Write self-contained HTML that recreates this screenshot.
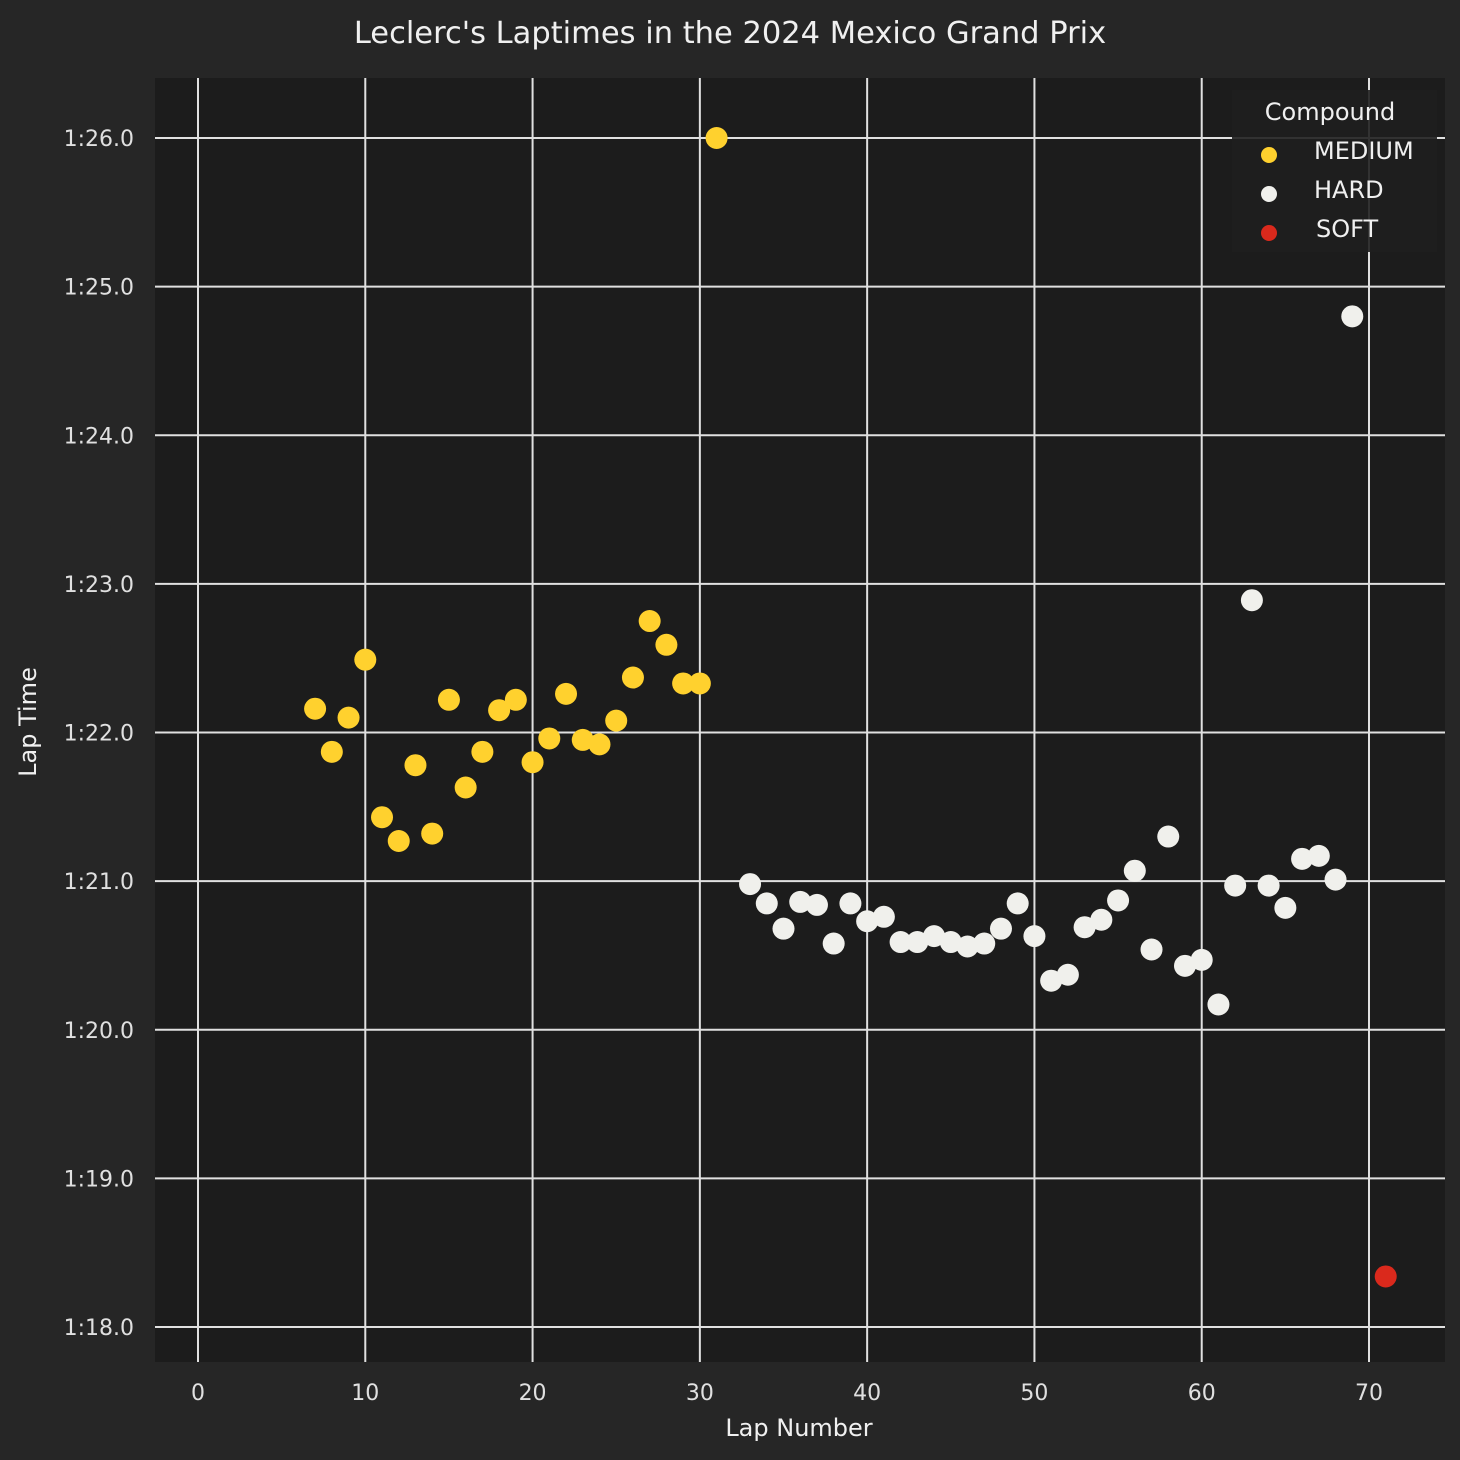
<!DOCTYPE html>
<html><head><meta charset="utf-8"><style>
html,body{margin:0;padding:0;background:#262626;}
svg{display:block;font-family:"DejaVu Sans","Liberation Sans",sans-serif;}
</style></head><body>
<svg id="chart" width="1460" height="1460" viewBox="0 0 1460 1460">
<rect x="0" y="0" width="1460" height="1460" fill="#262626"/>
<rect x="155" y="78" width="1290" height="1284" fill="#1c1c1c"/>
<g id="grid"></g><g id="ticks"></g><g id="points"></g>
<text x="730" y="43" fill="#f0f0f0" font-size="30.5" text-anchor="middle">Leclerc's Laptimes in the 2024 Mexico Grand Prix</text>
<text x="799" y="1436" fill="#f0f0f0" font-size="24" text-anchor="middle">Lap Number</text>
<text x="0" y="0" transform="translate(36,722) rotate(-90)" fill="#f0f0f0" font-size="24" text-anchor="middle">Lap Time</text>
<g>
<rect x="1232" y="90" width="205" height="162" fill="#1f1f1f" opacity="0.9"/>
<text x="1330" y="120" fill="#f0f0f0" font-size="24" text-anchor="middle">Compound</text>
<g><circle cx="1269" cy="155" r="8" fill="#ffd12e"/><text x="1314" y="159" fill="#f0f0f0" font-size="24">MEDIUM</text></g>
<g><circle cx="1269" cy="194" r="8" fill="#f0f0ec"/><text x="1314" y="198" fill="#f0f0f0" font-size="24">HARD</text></g>
<g><circle cx="1269" cy="233" r="8" fill="#da291c"/><text x="1316" y="237" fill="#f0f0f0" font-size="24">SOFT</text></g>
</g>
</svg>
<script>
const mediumLaps=[7,8,9,10,11,12,13,14,15,16,17,18,19,20,21,22,23,24,25,26,27,28,29,30,31];
const mediumTimes=[82.16,81.87,82.10,82.49,81.43,81.27,81.78,81.32,82.22,81.63,81.87,82.15,82.22,81.80,81.96,82.26,81.95,81.92,82.08,82.37,82.75,82.59,82.33,82.33,86.0];
const hardLaps=[33,34,35,36,37,38,39,40,41,42,43,44,45,46,47,48,49,50,51,52,53,54,55,56,57,58,59,60,61,62,63,64,65,66,67,68,69];
const hardTimes=[80.98,80.85,80.68,80.86,80.84,80.58,80.85,80.73,80.76,80.59,80.59,80.63,80.59,80.56,80.58,80.68,80.85,80.63,80.33,80.37,80.69,80.74,80.87,81.07,80.54,81.30,80.43,80.47,80.17,80.97,82.89,80.97,80.82,81.15,81.17,81.01,84.80];
const softLaps=[71];
const softTimes=[78.34];
const xTicks=[0,10,20,30,40,50,60,70];
const yTicks=[78,79,80,81,82,83,84,85,86];
const NS="http://www.w3.org/2000/svg";
const xs=v=>198+(v-0)*(1369-198)/70;
const ys=v=>1327-(v-78)*(1327-138)/8;
const fmt=v=>{const m=Math.floor(v/60),s=v-m*60;return m+":"+(s<10?"0":"")+s.toFixed(1);};
function mk(tag,attrs,parent){const e=document.createElementNS(NS,tag);for(const k in attrs)e.setAttribute(k,attrs[k]);parent.appendChild(e);return e;}
const grid=document.getElementById('grid'),ticks=document.getElementById('ticks'),pts=document.getElementById('points');
xTicks.forEach(t=>{
 const l=mk('line',{x1:xs(t),x2:xs(t),y1:78,y2:1362,stroke:'#e0e0e0','stroke-width':2},grid);
 
 
 const tx=mk('text',{x:xs(t),y:1400,fill:'#e0e0e0','font-size':22,'text-anchor':'middle'},ticks);
 tx.textContent=t;
 
 
});
yTicks.forEach(t=>{
 const l=mk('line',{x1:155,x2:1445,y1:ys(t),y2:ys(t),stroke:'#e0e0e0','stroke-width':2},grid);
 
 
 const tx=mk('text',{x:134,y:ys(t)+8,fill:'#e0e0e0','font-size':22,'text-anchor':'end'},ticks);
 tx.textContent=fmt(t);
 
 
});
function series(laps,times,color,name){
 laps.forEach((lap,i)=>{
  const c=mk('circle',{cx:xs(lap),cy:ys(times[i]),r:11,fill:color},pts);
  
  
 });
}
series(mediumLaps,mediumTimes,'#ffd12e','medium-point');
series(hardLaps,hardTimes,'#f0f0ec','hard-point');
series(softLaps,softTimes,'#da291c','soft-point');
</script>
</body></html>
